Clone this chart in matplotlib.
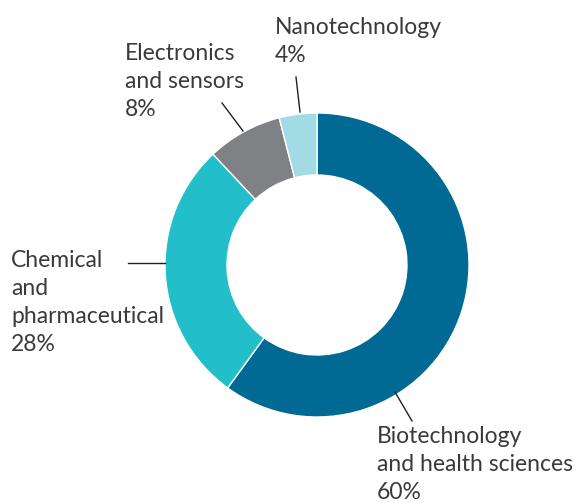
import matplotlib.pyplot as plt

labels = ['Biotechnology\nand health sciences', 'Chemical\nand\npharmaceutical',
          'Electronics\nand sensors', 'Nanotechnology']
shares = [60, 28, 8, 4]
colors = ['#006a94', '#22bfca', '#808184', '#a2dbe3']

W, H = 576, 503
fig = plt.figure(figsize=(W / 100, H / 100), dpi=100)
ax = fig.add_axes([0, 0, 1, 1])

cx, cy, r = 317, H - 265, 152
ax.pie(shares, colors=colors, startangle=90, counterclock=False,
       center=(cx, cy), radius=r, frame=True,
       wedgeprops=dict(width=r - 90, edgecolor='white', linewidth=1))
ax.set_xlim(0, W)
ax.set_ylim(0, H)
ax.set_aspect('auto')
ax.axis('off')

# label text positions (top-left, px from top) and leader lines
text_pos = [(377, 426), (11, 250), (125, 43), (275, 17)]
leaders = [((395, 392), (412, 421)), ((165, 263), (128, 263)),
           ((243, 131), (222, 103)), ((300, 112), (296, 77))]

for lab, val, (tx, ty), (p0, p1) in zip(labels, shares, text_pos, leaders):
    ax.text(tx, H - ty, f'{lab}\n{val}%', ha='left', va='top', fontsize=16.5,
            family='Lato', color='#3a3a3a', linespacing=1.42)
    ax.plot([p0[0], p1[0]], [H - p0[1], H - p1[1]], color='#231f20', lw=1)

fig.savefig('out.png', dpi=100)
